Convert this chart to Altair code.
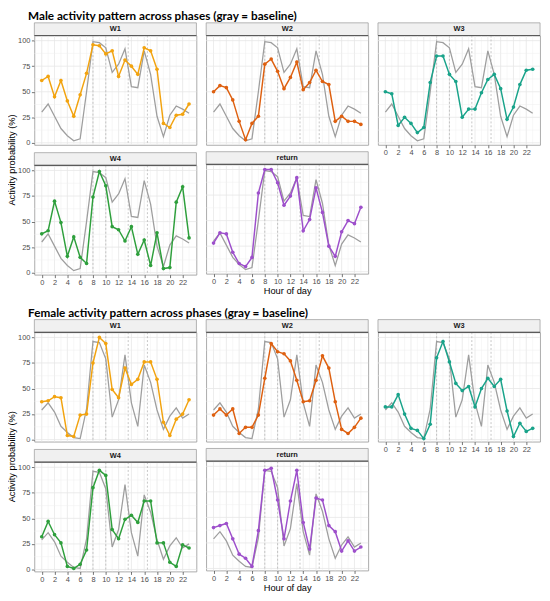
import altair as alt
import pandas as pd

HOURS = list(range(24))
HOUR_TICKS = list(range(0, 23, 2))
MINOR_HOURS = list(range(1, 24, 2))
Y_TICKS = [0, 25, 50, 75, 100]
Y_MINOR = [12.5, 37.5, 62.5, 87.5]
DASHED = [8, 10, 13.5, 16.5]
PHASES = ["W1", "W2", "W3", "W4", "return"]
COLORS = {"W1": "#F2A30F", "W2": "#DE6010", "W3": "#19A38A", "W4": "#2E9F3C", "return": "#9D4FCB"}

male_baseline = [30, 38, 26, 14, 7, 2, 4, 50, 99, 98, 93, 69, 77, 92, 55, 54, 90, 67, 26, 6, 27, 36, 33, 29]
male_W1 = [61, 65, 45, 61, 41, 26, 47, 68, 96, 95, 87, 90, 65, 81, 75, 67, 93, 90, 72, 19, 15, 27, 28, 38]
male_W2 = [50, 56, 54, 42, 21, 3, 19, 26, 77, 82, 70, 53, 64, 79, 52, 59, 71, 60, 57, 21, 26, 21, 21, 18]
male_W3 = [50, 48, 17, 25, 19, 10, 15, 59, 85, 85, 67, 60, 25, 33, 33, 49, 62, 67, 53, 23, 35, 57, 71, 72]
male_W4 = [38, 41, 70, 49, 16, 35, 15, 9, 74, 99, 85, 45, 42, 31, 45, 18, 32, 7, 39, 4, 5, 69, 84, 34]
male_return = [28, 38, 37, 19, 8, 5, 14, 77, 100, 100, 87, 65, 74, 92, 40, 51, 82, 58, 25, 15, 39, 50, 47, 63]

female_baseline = [29, 36, 27, 13, 7, 2, 1, 30, 96, 95, 79, 22, 39, 83, 36, 13, 73, 56, 29, 10, 23, 31, 21, 25]
female_W1 = [37, 38, 42, 41, 4, 3, 24, 25, 75, 100, 94, 49, 41, 70, 54, 59, 76, 76, 59, 17, 4, 20, 25, 39]
female_W2 = [24, 30, 24, 30, 6, 12, 12, 24, 60, 94, 86, 84, 77, 58, 37, 38, 58, 82, 70, 37, 10, 6, 12, 21]
female_W3 = [32, 32, 44, 25, 11, 9, 1, 15, 80, 96, 76, 55, 48, 52, 32, 50, 60, 52, 59, 28, 3, 16, 8, 11]
female_W4 = [32, 47, 34, 26, 3, 1, 5, 19, 80, 97, 92, 39, 30, 49, 53, 46, 67, 67, 26, 26, 7, 3, 24, 21]
female_return = [40, 42, 44, 29, 14, 10, 2, 37, 96, 98, 67, 29, 66, 96, 45, 19, 69, 67, 42, 36, 17, 27, 17, 21]

MALE = {"W1": male_W1, "W2": male_W2, "W3": male_W3, "W4": male_W4, "return": male_return}
FEMALE = {"W1": female_W1, "W2": female_W2, "W3": female_W3, "W4": female_W4, "return": female_return}

W = 166
H = 112
STRIP = 13
FONT = "Liberation Sans"
YTITLE = "Activity probability (%)"
XTITLE = "Hour of day"


def panel(phase, base, vals, show_x, show_y, xtitle):
    color = COLORS[phase]
    xs = alt.Scale(domain=[-1.15, 24.15], nice=False, zero=False)
    ys = alt.Scale(domain=[-2, 105], nice=False, zero=False)
    if show_x:
        xax = alt.Axis(values=HOUR_TICKS, title=xtitle, labelFontSize=7.6, labelColor="#4D4D4D",
                       labelFont=FONT, tickColor="#333333", tickSize=3, tickWidth=0.7,
                       labelPadding=1, domain=False, grid=False, titleFontSize=9.5,
                       titleFont=FONT, titleFontWeight="normal", titleColor="#000000",
                       titlePadding=1, labelFlush=False)
    else:
        xax = None
    if show_y:
        yax = alt.Axis(values=Y_TICKS, title=None, labelFontSize=7.6, labelColor="#4D4D4D",
                       labelFont=FONT, tickColor="#333333", tickSize=3, tickWidth=0.7,
                       labelPadding=1.5, domain=False, grid=False, labelFlush=False)
    else:
        yax = None
    x = alt.X("hour:Q", scale=xs, axis=xax)
    y = alt.Y("val:Q", scale=ys, axis=yax)

    gxm = alt.Chart(pd.DataFrame({"hour": MINOR_HOURS})).mark_rule(color="#EFEFEF", strokeWidth=0.5).encode(x=x)
    gx = alt.Chart(pd.DataFrame({"hour": HOUR_TICKS})).mark_rule(color="#E6E6E6", strokeWidth=0.8).encode(x=x)
    gym = alt.Chart(pd.DataFrame({"val": Y_MINOR})).mark_rule(color="#EFEFEF", strokeWidth=0.5).encode(y=y)
    gy = alt.Chart(pd.DataFrame({"val": Y_TICKS})).mark_rule(color="#E6E6E6", strokeWidth=0.8).encode(y=y)
    dash = alt.Chart(pd.DataFrame({"hour": DASHED})).mark_rule(
        color="#B5B5B5", strokeDash=[2, 2], strokeWidth=0.8).encode(x=x)
    bdf = pd.DataFrame({"hour": HOURS, "val": base})
    pdf = pd.DataFrame({"hour": HOURS, "val": vals})
    bl = alt.Chart(bdf).mark_line(color="#9E9E9E", strokeWidth=1.3).encode(x=x, y=y)
    ln = alt.Chart(pdf).mark_line(color=color, strokeWidth=1.5).encode(x=x, y=y)
    pts = alt.Chart(pdf).mark_circle(color=color, size=14, opacity=1).encode(x=x, y=y)
    ldf = pd.DataFrame({"label": [phase]})
    srect = alt.Chart(ldf).mark_rect(fill="#F0F0F0", stroke="#A0A0A0", strokeWidth=0.8).encode(
        x=alt.value(0), x2=alt.value(W), y=alt.value(-STRIP), y2=alt.value(0))
    sline = alt.Chart(ldf).mark_rule(color="#5A5A5A", strokeWidth=1.2).encode(
        x=alt.value(0), x2=alt.value(W), y=alt.value(0))
    stext = alt.Chart(ldf).mark_text(font=FONT, fontSize=7.6, fontWeight="bold", color="#1A1A1A",
                                     baseline="middle", align="center").encode(
        x=alt.value(W / 2), y=alt.value(-STRIP / 2), text="label:N")
    return alt.layer(gxm, gx, gym, gy, dash, bl, ln, pts, srect, sline, stext).properties(width=W, height=H)


def section(title, base, data):
    total_h = STRIP + H + 5 + STRIP + H
    ytitle = alt.Chart(pd.DataFrame({"t": [YTITLE]})).mark_text(
        angle=270, font=FONT, fontSize=9.5, color="#000000", baseline="middle", align="center").encode(
        x=alt.value(4), y=alt.value(total_h / 2), text="t:N").properties(
        width=8, height=total_h, view=alt.ViewBackground(stroke="transparent"))
    col1 = alt.vconcat(panel("W1", base, data["W1"], False, True, None),
                       panel("W4", base, data["W4"], True, True, None), spacing=5)
    col2 = alt.vconcat(panel("W2", base, data["W2"], False, False, None),
                       panel("return", base, data["return"], True, False, XTITLE), spacing=5)
    col3 = panel("W3", base, data["W3"], True, False, None)
    grid = alt.hconcat(col1, col2, col3, spacing=6)
    return alt.hconcat(ytitle, grid, spacing=0).properties(
        title=alt.TitleParams(text=title, anchor="start", font="Lato", fontSize=12, fontWeight="bold",
                              color="#000000", dx=22, offset=-1))


male = section("Male activity pattern across phases (gray = baseline)", male_baseline, MALE)
female = section("Female activity pattern across phases (gray = baseline)", female_baseline, FEMALE)

chart = alt.vconcat(male, female, spacing=11).properties(
    padding={"left": -2, "top": -5, "right": 0, "bottom": 0}
).configure_view(stroke="#A0A0A0", strokeWidth=0.9)

chart.save("out.html", embed_options={"renderer": "svg", "actions": False})
